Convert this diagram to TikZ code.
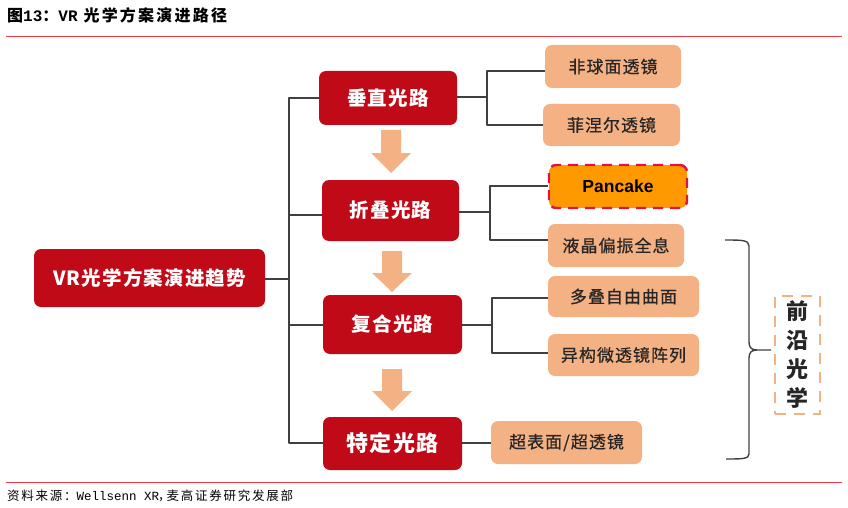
\documentclass[tikz,border=0pt]{standalone}
\usepackage{fontspec}
\setmainfont{Liberation Sans}
\newfontfamily\cjk[LetterSpace=6]{Noto Sans CJK SC}
\newfontfamily\cjkleaf[LetterSpace=6,FakeBold=0.5]{Noto Sans CJK SC}
\newfontfamily\cjkt[LetterSpace=14]{Noto Sans CJK SC}
\newfontfamily\monof{Liberation Mono}
\definecolor{dkred}{HTML}{C00A17}
\definecolor{peach}{HTML}{F4B183}
\definecolor{amber}{HTML}{FF9900}
\definecolor{rulered}{HTML}{EE3B45}
\definecolor{wire}{HTML}{404040}
\definecolor{dashred}{HTML}{E0143C}
\tikzset{
  base/.style={rectangle,rounded corners=7pt,inner sep=0pt,align=center},
  main/.style={base,fill=dkred,text=white,font=\cjk\bfseries\fontsize{19.5}{22}\selectfont},
  leaf/.style={base,fill=peach,text=black!85,font=\cjkleaf\fontsize{17}{20}\selectfont},
  conn/.style={draw=wire,line width=1.4pt,line join=round},
  rulerline/.style={draw=rulered,line width=1pt},
  dn/.style={fill=peach,draw=none},
}
\newcommand{\downarrowblock}[4]{% cx, top, headtop, tip
  \fill[dn] (#1-10,#2) -- (#1+10,#2) -- (#1+10,#3) -- (#1+20,#3) -- (#1,#4) -- (#1-20,#3) -- (#1-10,#3) -- cycle;}
\begin{document}
\begin{tikzpicture}[x=1pt,y=-1pt]
\useasboundingbox (0,0) rectangle (848,508);
% title and rules
\node[anchor=west,inner sep=0pt,font=\bfseries\fontsize{16}{18}\selectfont] (title) at (7,15) {\cjkt 图{\monof 13}：{\monof VR} 光学方案演进路径};
\coordinate (r1a) at (6,36.5); \coordinate (r1b) at (842,36.5);
\draw[rulerline] (r1a) -- (r1b);
\coordinate (r2a) at (6,482.5); \coordinate (r2b) at (842,482.5);
\draw[rulerline] (r2a) -- (r2b);
\node[anchor=west,inner sep=0pt,font=\fontsize{12.5}{15}\selectfont] (src) at (7,496) {\cjkt 资料来源：{\monof Wellsenn XR}\kern-1pt，\kern-4pt 麦高证券研究发展部};
% main nodes
\node[main,minimum width=231pt,minimum height=58pt] (root) at (149.5,278) {VR光学方案演进趋势};
\node[main,minimum width=138pt,minimum height=54pt] (a) at (388,98) {垂直光路};
\node[main,minimum width=137pt,minimum height=61pt] (b) at (390.5,210.5) {折叠光路};
\node[main,minimum width=139pt,minimum height=59pt] (c) at (392.5,324.5) {复合光路};
\node[main,minimum width=139pt,minimum height=53pt,font=\cjk\bfseries\fontsize{22}{24}\selectfont] (d) at (392.5,443.5) {特定光路};
% leaves
\node[leaf,minimum width=136pt,minimum height=43pt] (a1) at (613,66.5) {非球面透镜};
\node[leaf,minimum width=137pt,minimum height=42pt] (a2) at (611.5,125) {菲涅尔透镜};
\node[base,fill=amber,draw=dashred,line width=2.4pt,dash pattern=on 10pt off 7pt,minimum width=138pt,minimum height=43pt,font=\bfseries\fontsize{17.5}{20}\selectfont] (b1) at (618,186.5) {Pancake};
\node[leaf,minimum width=136pt,minimum height=43pt] (b2) at (616,245.5) {液晶偏振全息};
\node[leaf,minimum width=151pt,minimum height=41pt] (c1) at (623.5,296.5) {多叠自由曲面};
\node[leaf,minimum width=151pt,minimum height=42pt] (c2) at (623.5,355) {异构微透镜阵列};
\node[leaf,minimum width=151pt,minimum height=43pt] (d1) at (566.5,442.5) {超表面/超透镜};
\node[rectangle,draw=peach,line width=2pt,dash pattern=on 11pt off 8pt,minimum width=45pt,minimum height=118pt,inner sep=0pt,align=center,font=\cjk\bfseries\fontsize{22}{29}\selectfont,text=black!85] (front) at (797.5,355) {前\\沿\\光\\学};
% bus from root
\coordinate (busA) at (289,98); \coordinate (busB) at (289,215);
\coordinate (busC) at (289,325); \coordinate (busD) at (289,443);
\coordinate (busR) at (289,279);
\draw[conn] (a.west) -- (busA) -- (busD) -- (d.west|-busD);
\draw[conn] (b.west|-busB) -- (busB);
\draw[conn] (c.west|-busC) -- (busC);
\draw[conn] (root.east|-busR) -- (busR);
% leaf brackets
\coordinate (ja) at (487,97); \coordinate (ja1) at (487,71); \coordinate (ja2) at (487,125);
\draw[conn] (a.east|-ja) -- (ja);
\draw[conn] (a1.west|-ja1) -- (ja1) -- (ja2) -- (a2.west|-ja2);
\coordinate (jb) at (490,212); \coordinate (jb1) at (490,186); \coordinate (jb2) at (490,240);
\draw[conn] (b.east|-jb) -- (jb);
\draw[conn] (b1.west|-jb1) -- (jb1) -- (jb2) -- (b2.west|-jb2);
\coordinate (jc) at (492,325); \coordinate (jc1) at (492,298); \coordinate (jc2) at (492,353);
\draw[conn] (c.east|-jc) -- (jc);
\draw[conn] (c1.west|-jc1) -- (jc1) -- (jc2) -- (c2.west|-jc2);
\coordinate (jd) at (491,443);
\draw[conn] (d.east|-jd) -- (d1.west|-jd);
% block arrows
\downarrowblock{391}{130}{153}{173}
\downarrowblock{392}{251}{273}{292}
\downarrowblock{392}{369}{391}{411}
% brace
\coordinate (brT) at (725,240); \coordinate (brB) at (726,459); \coordinate (brP) at (771,350);
\draw[conn] (brT) .. controls (742,240) and (749,240) .. (749,246) -- (749,342) .. controls (749,348) and (752,350) .. (757,350) -- (brP);
\draw[conn] (brB) .. controls (742,459) and (749,459) .. (749,454) -- (749,358) .. controls (749,352) and (752,350) .. (757,350);
\end{tikzpicture}
\end{document}
